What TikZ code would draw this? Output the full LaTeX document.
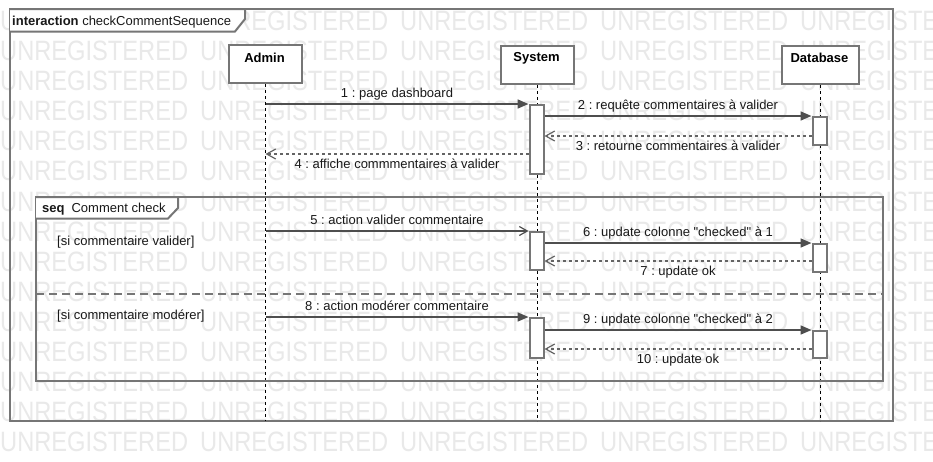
\documentclass[tikz,border=0pt]{standalone}
\usepackage{fontspec}
\setmainfont{Liberation Sans}
\usetikzlibrary{arrows.meta}
\definecolor{framec}{RGB}{118,118,118}
\definecolor{msgc}{RGB}{78,78,78}
\definecolor{replyc}{RGB}{100,100,100}
\definecolor{wmc}{RGB}{233,233,233}
\frenchspacing
\begin{document}
\begin{tikzpicture}[x=1pt,y=-1pt,
  every node/.style={font=\fontsize{13}{15}\selectfont},
  wm/.style={anchor=west,inner sep=0pt,text=wmc,font=\fontsize{28}{30}\selectfont},
  frame/.style={draw=framec,line width=2pt},
  box/.style={draw=framec,line width=2pt,fill=white,minimum width=73pt,minimum height=38pt,anchor=north west,inner sep=0pt},
  boxlbl/.style={font=\fontsize{13}{15}\selectfont\bfseries,inner sep=0pt},
  act/.style={draw=framec,line width=2pt,fill=white,minimum width=14pt,anchor=north,inner sep=0pt},
  lifeline/.style={draw=black,line width=0.9pt,dash pattern=on 3pt off 3pt},
  sync/.style={draw=msgc,line width=1.6pt,-{Triangle[length=11pt,width=9pt]}},
  async/.style={draw=msgc,line width=1.6pt,-{Straight Barb[length=8pt,width=9pt,line width=1.2pt]}},
  reply/.style={draw=replyc,line width=1.5pt,dash pattern=on 3pt off 3pt,-{Straight Barb[length=9pt,width=10pt,line width=1.2pt,sep=0pt]}},
  la/.style={anchor=base,yshift=6.5pt,inner sep=0pt,text=black!90},
  lb/.style={anchor=base,yshift=-14.5pt,inner sep=0pt,text=black!90},
  txt/.style={anchor=base west,inner sep=0pt,text=black!90}
]
\useasboundingbox (0,0) rectangle (933,461);
\fill[white] (0,0) rectangle (933,461);
% watermark
\begin{scope}
\clip (0,0) rectangle (933,461);
\foreach \r in {0,...,14}{
  \foreach \c in {0,...,4}{
    \node[wm] (wm-\r-\c) at (200*\c, 21+30.07*\r) {\scalebox{0.845}[1]{UNREGISTERED}};
  }
}
\end{scope}

% outer frame
\draw[frame] (10,9) rectangle (893,421);
\draw[frame,fill=white] (10,9) -- (245,9) -- (245,19) -- (235,31.5) -- (10,31.5);
\node[txt] (title) at (12,25) {\textbf{interaction} checkCommentSequence};

% actors
\node[box] (admin) at (228,44) {};
\node[box] (sys) at (500,45) {};
\node[box,minimum width=77pt] (db) at (781,45) {};
\node[boxlbl] (adminT) at (264.5,58) {Admin};
\node[boxlbl] (sysT) at (536.5,58) {System};
\node[boxlbl] (dbT) at (819.5,58) {Database};

% lifelines
\coordinate (bot) at (0,421);
\draw[lifeline] (admin.south) -- (admin.south |- bot);
\draw[lifeline] (sys.south) -- (sys.south |- bot);
\draw[lifeline] (db.south) -- (db.south |- bot);

% combined fragment
\draw[frame] (36,197) rectangle (883,381);
\draw[frame,fill=white] (36,197) -- (178,197) -- (178,208) -- (168,218.5) -- (36,218.5);
\node[txt] (seqT) at (42,212) {\textbf{seq}\hspace{7pt}Comment check};
\draw[draw=framec,line width=2pt,dash pattern=on 8pt off 5pt] (36,294) -- (883,294);
\node[txt] (g1) at (57,245) {[si commentaire valider]};
\node[txt] (g2) at (57,319) {[si commentaire modérer]};

% activation bars
\node[act,minimum height=69pt] (s1) at (536.5,104) {};
\node[act,minimum height=28pt] (d1) at (819.5,116) {};
\node[act,minimum height=38pt] (s2) at (536.5,231) {};
\node[act,minimum height=28pt] (d2) at (819.5,243) {};
\node[act,minimum height=40pt] (s3) at (536.5,317) {};
\node[act,minimum height=27pt] (d3) at (819.5,330) {};

\coordinate (y3) at (0,136);
\coordinate (y4) at (0,154);
\coordinate (y7) at (0,261);
\coordinate (y10) at (0,349);

% messages
\draw[sync] (admin.south |- s1.north) -- node[la] (l1) {1 : page dashboard} (s1.north west);
\draw[sync] (s1.east |- d1.north) -- node[la] (l2) {2 : requête commentaires à valider} (d1.north west);
\draw[reply] (d1.west |- y3) -- node[lb] (l3) {3 : retourne commentaires à valider} (s1.east |- y3);
\draw[reply] (s1.west |- y4) -- node[lb] (l4) {4 : affiche commmentaires à valider} (admin.south |- y4);
\draw[async] (admin.south |- s2.north) -- node[la] (l5) {5 : action valider commentaire} (s2.north west);
\draw[sync] (s2.east |- d2.north) -- node[la] (l6) {6 : update colonne \textquotedbl checked\textquotedbl\ à 1} (d2.north west);
\draw[reply] (d2.west |- y7) -- node[lb] (l7) {7 : update ok} (s2.east |- y7);
\draw[sync] (admin.south |- s3.north) -- node[la] (l8) {8 : action modérer commentaire} (s3.north west);
\draw[sync] (s3.east |- d3.north) -- node[la] (l9) {9 : update colonne \textquotedbl checked\textquotedbl\ à 2} (d3.north west);
\draw[reply] (d3.west |- y10) -- node[lb] (l10) {10 : update ok} (s3.east |- y10);
\end{tikzpicture}
\end{document}
